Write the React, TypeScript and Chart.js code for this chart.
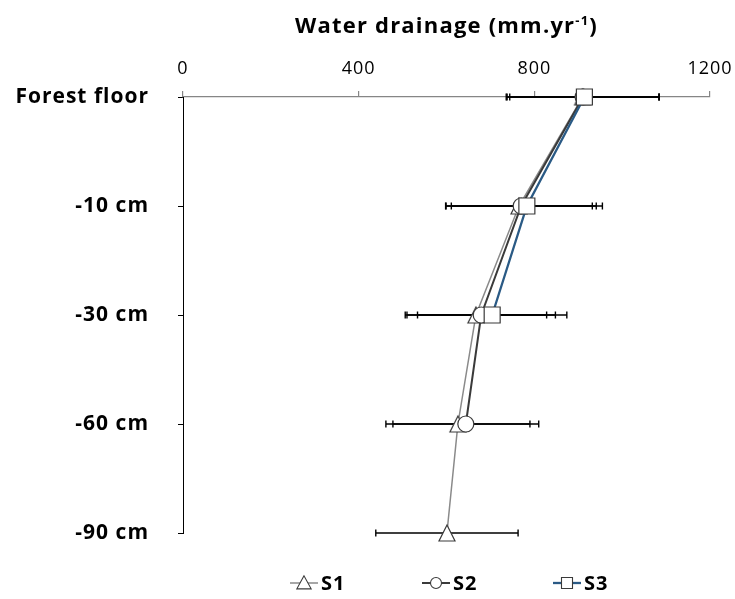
import React, { useEffect, useRef } from 'react';
import { Chart, registerables } from 'chart.js';

Chart.register(...registerables);

const depths = ['Forest floor', '-10 cm', '-30 cm', '-60 cm', '-90 cm'];
const xTickValues = [0, 400, 800, 1200];
const seriesNames = ['S1', 'S2', 'S3'];

const s1Drainage = [910, 765, 667, 626, 601];
const s1Error = [174, 167, 161, 164, 162];
const s2Drainage = [911, 770, 679, 644];
const s2Error = [173, 171, 169, 166];
const s3Drainage = [914, 783, 704];
const s3Error = [170, 172, 170];

const titleMain = 'Water drainage (mm.yr';
const titleSup = '-1';
const titleEnd = ')';

const FONT = '"Open Sans", "Liberation Sans", sans-serif';
const lineColors = ['#8a8a8a', '#3a3a3a', '#2a5a85'];
const markerStroke = '#3a3a3a';
const errorSets = [s1Error, s2Error, s3Error];

function makeTriangle(): HTMLCanvasElement {
  const c = document.createElement('canvas');
  c.width = 20;
  c.height = 20;
  const t = c.getContext('2d')!;
  t.beginPath();
  t.moveTo(10, 2);
  t.lineTo(2, 18);
  t.lineTo(18, 18);
  t.closePath();
  t.fillStyle = '#fff';
  t.fill();
  t.strokeStyle = markerStroke;
  t.lineWidth = 1.2;
  t.stroke();
  return c;
}

function drawMarker(ctx: CanvasRenderingContext2D, kind: number, x: number, y: number, s: number) {
  ctx.beginPath();
  if (kind === 0) {
    ctx.moveTo(x, y - s * 0.55);
    ctx.lineTo(x - s * 0.55, y + s * 0.45);
    ctx.lineTo(x + s * 0.55, y + s * 0.45);
    ctx.closePath();
  } else if (kind === 1) {
    ctx.arc(x, y, s / 2, 0, Math.PI * 2);
  } else {
    ctx.rect(x - s / 2, y - s / 2, s, s);
  }
  ctx.fillStyle = '#fff';
  ctx.fill();
  ctx.strokeStyle = markerStroke;
  ctx.lineWidth = 1.1;
  ctx.stroke();
}

const spacingPlugin = {
  id: 'spacing',
  beforeDraw(chart: any) {
    chart.ctx.letterSpacing = '1px';
  },
};

const errorBarPlugin = {
  id: 'errorBars',
  beforeDatasetsDraw(chart: any) {
    const { ctx } = chart;
    const x = chart.scales.x;
    const y = chart.scales.y;
    ctx.save();
    ctx.strokeStyle = '#000';
    ctx.lineWidth = 1.4;
    chart.data.datasets.forEach((ds: any, di: number) => {
      const errs = errorSets[di];
      ds.data.forEach((v: number, i: number) => {
        const py = y.getPixelForValue(i);
        const xl = x.getPixelForValue(v - errs[i]);
        const xr = x.getPixelForValue(v + errs[i]);
        ctx.beginPath();
        ctx.moveTo(xl, py);
        ctx.lineTo(xr, py);
        ctx.moveTo(xl, py - 3.5);
        ctx.lineTo(xl, py + 3.5);
        ctx.moveTo(xr, py - 3.5);
        ctx.lineTo(xr, py + 3.5);
        ctx.stroke();
      });
    });
    ctx.restore();
  },
};

const titlePlugin = {
  id: 'supTitle',
  afterDraw(chart: any) {
    const { ctx, chartArea } = chart;
    ctx.save();
    ctx.letterSpacing = '1.2px';
    ctx.fillStyle = '#000';
    ctx.textBaseline = 'alphabetic';
    ctx.textAlign = 'left';
    const big = `bold 22px ${FONT}`;
    const small = `bold 13px ${FONT}`;
    ctx.font = big;
    const w1 = ctx.measureText(titleMain).width;
    const w3 = ctx.measureText(titleEnd).width;
    ctx.font = small;
    const w2 = ctx.measureText(titleSup).width;
    const cx = (chartArea.left + chartArea.right) / 2;
    let x = cx - (w1 + w2 + w3) / 2;
    const base = 33;
    ctx.font = big;
    ctx.fillText(titleMain, x, base);
    x += w1;
    ctx.font = small;
    ctx.fillText(titleSup, x, base - 8);
    x += w2;
    ctx.font = big;
    ctx.fillText(titleEnd, x, base);
    ctx.restore();
  },
};

const legendPlugin = {
  id: 'customLegend',
  afterDraw(chart: any) {
    const { ctx } = chart;
    const centers = [304, 436, 567];
    const y = 583;
    ctx.save();
    ctx.letterSpacing = '1px';
    chart.data.datasets.forEach((ds: any, i: number) => {
      const cx = centers[i];
      ctx.beginPath();
      ctx.moveTo(cx - 14, y);
      ctx.lineTo(cx + 14, y);
      ctx.strokeStyle = ds.borderColor;
      ctx.lineWidth = ds.borderWidth;
      ctx.stroke();
      drawMarker(ctx, i, cx, y, i === 0 ? 13 : 11);
      ctx.fillStyle = '#000';
      ctx.font = `bold 20px ${FONT}`;
      ctx.textAlign = 'left';
      ctx.textBaseline = 'middle';
      ctx.fillText(seriesNames[i], cx + 17, y + 1);
    });
    ctx.restore();
  },
};

export default function App() {
  const ref = useRef<HTMLCanvasElement>(null);
  useEffect(() => {
    const canvas = ref.current!;
    const tri = makeTriangle();
    const chart = new Chart(canvas, {
      type: 'line',
      data: {
        labels: depths,
        datasets: [
          {
            label: seriesNames[0],
            data: s1Drainage,
            borderColor: lineColors[0],
            borderWidth: 1.5,
            pointStyle: tri as any,
            pointRadius: 9,
            pointBackgroundColor: '#fff',
            pointBorderColor: markerStroke,
            order: 3,
            clip: false as any,
          },
          {
            label: seriesNames[1],
            data: s2Drainage,
            borderColor: lineColors[1],
            borderWidth: 2,
            pointStyle: 'circle',
            pointRadius: 8,
            pointBorderWidth: 1.2,
            pointBackgroundColor: '#fff',
            pointBorderColor: markerStroke,
            order: 2,
            clip: false as any,
          },
          {
            label: seriesNames[2],
            data: s3Drainage,
            borderColor: lineColors[2],
            borderWidth: 2.3,
            pointStyle: 'rect',
            pointRadius: 11.3,
            pointBorderWidth: 1.2,
            pointBackgroundColor: '#fff',
            pointBorderColor: markerStroke,
            order: 1,
            clip: false as any,
          },
        ],
      },
      options: {
        animation: false,
        responsive: true,
        maintainAspectRatio: false,
        indexAxis: 'y',
        layout: { padding: { left: 0, right: 25, top: 0, bottom: 66 } },
        plugins: {
          legend: { display: false },
          tooltip: { enabled: false },
          title: { display: false },
        },
        scales: {
          x: {
            type: 'linear',
            position: 'top',
            min: 0,
            max: 1200,
            afterBuildTicks: (s: any) => {
              s.ticks = xTickValues.map((v) => ({ value: v }));
            },
            afterFit: (s: any) => {
              s.height = 97;
              s.paddingLeft = 0;
              s.paddingRight = 0;
            },
            grid: {
              display: true,
              drawOnChartArea: false,
              drawTicks: true,
              tickLength: 6,
              color: '#868686',
              lineWidth: 1.2,
            },
            border: { display: true, color: '#868686', width: 1.3 },
            ticks: {
              color: '#000',
              padding: 11,
              maxRotation: 0,
              autoSkip: false,
              callback: (v: any) => String(v),
              font: { family: FONT, size: 18 },
            },
          },
          y: {
            type: 'category',
            offset: false,
            afterFit: (s: any) => {
              s.width = 183;
            },
            grid: {
              display: true,
              drawOnChartArea: false,
              drawTicks: true,
              tickLength: 5,
              color: '#000',
              lineWidth: 1,
            },
            border: { display: true, color: '#000', width: 1 },
            ticks: {
              color: '#000',
              padding: 29,
              font: { family: FONT, size: 21, weight: 'bold' },
            },
          },
        },
      },
      plugins: [spacingPlugin, errorBarPlugin, titlePlugin, legendPlugin],
    } as any);
    return () => chart.destroy();
  }, []);
  return (
    <div style={{ position: 'absolute', left: 0, top: 0, width: 735, height: 599 }}>
      <canvas ref={ref} />
    </div>
  );
}
